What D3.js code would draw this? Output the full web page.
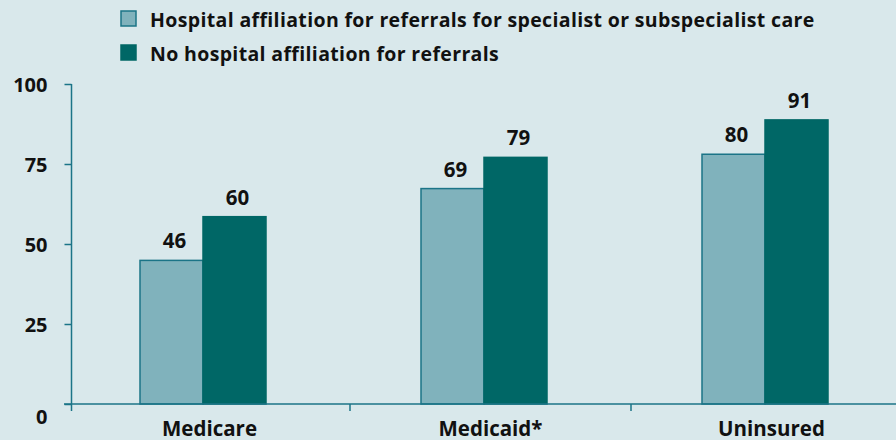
<!DOCTYPE html>
<html>
<head>
<meta charset="utf-8">
<script src="https://cdn.jsdelivr.net/npm/d3@7"></script>
<style>
  body { margin: 0; background: #d9e8eb; }
  svg text { font-family: "Open Sans", "Noto Sans", sans-serif; font-weight: bold; fill: #111; }
</style>
</head>
<body>
<div id="chart"></div>
<script>
var categories = ["Medicare", "Medicaid*", "Uninsured"];
var seriesNames = ["Hospital affiliation for referrals for specialist or subspecialist care",
                   "No hospital affiliation for referrals"];
var affiliated = [46, 69, 80];
var notAffiliated = [60, 79, 91];
var yTicks = [0, 25, 50, 75, 100];

var WIDTH = 896, HEIGHT = 440;
var AXIS_COLOR = "#1b7487";
var colors = ["#80b2bc", "#006766"];

var svg = d3.select("#chart").append("svg")
  .attr("width", WIDTH)
  .attr("height", HEIGHT);

svg.append("rect").attr("width", WIDTH).attr("height", HEIGHT).attr("fill", "#d9e8eb");

var y = d3.scaleLinear().domain([0, 100]).range([404, 84]);
// bars in the original sit a little short of the axis, so they get their own scale
var yBar = d3.scaleLinear().domain([0, 102.5]).range([404, 84]);

var x0 = d3.scaleBand().domain(categories).range([69, 912]);
var x1 = d3.scaleBand().domain([0, 1]).range([0, 126]);
var GROUP_OFFSET = 71;

// y axis
var yAxis = svg.append("g").attr("transform", "translate(71.5,0)")
  .call(d3.axisLeft(y).tickValues(yTicks).tickSize(7).tickPadding(17));
yAxis.select(".domain").remove();
yAxis.selectAll(".tick line").attr("stroke", AXIS_COLOR).attr("stroke-width", 1.5);
yAxis.selectAll(".tick text").style("font-size", "20px").attr("fill", "#111")
  .attr("dy", function (d) { return d === 0 ? "0.95em" : "0.35em"; })
  .attr("font-family", null);
svg.append("line")
  .attr("x1", 71.5).attr("x2", 71.5).attr("y1", y(100)).attr("y2", 411)
  .attr("stroke", AXIS_COLOR).attr("stroke-width", 1.5);

// bars
var rows = categories.map(function (c, i) { return { cat: c, values: [affiliated[i], notAffiliated[i]] }; });

var groups = svg.selectAll("g.group").data(rows).enter().append("g")
  .attr("class", "group")
  .attr("transform", function (d) { return "translate(" + (x0(d.cat) + GROUP_OFFSET) + ",0)"; });

groups.selectAll("rect").data(function (d) { return d.values; }).enter().append("rect")
  .attr("x", function (v, i) { return x1(i); })
  .attr("y", function (v) { return yBar(v); })
  .attr("width", x1.bandwidth())
  .attr("height", function (v) { return yBar(0) - yBar(v); })
  .attr("fill", function (v, i) { return colors[i]; })
  .attr("stroke", function (v, i) { return i === 0 ? AXIS_COLOR : colors[1]; })
  .attr("stroke-width", 1.5);

groups.selectAll("text").data(function (d) { return d.values; }).enter().append("text")
  .attr("x", function (v, i) { return x1(i) + x1.bandwidth() / 2 + 3; })
  .attr("y", function (v) { return yBar(v) - 12; })
  .attr("text-anchor", "middle")
  .style("font-size", "20.5px")
  .text(function (v) { return v; });

// x axis baseline and ticks
svg.append("line")
  .attr("x1", 64).attr("x2", WIDTH).attr("y1", 404).attr("y2", 404)
  .attr("stroke", AXIS_COLOR).attr("stroke-width", 1.5);
svg.selectAll("line.xtick").data(categories.slice(1)).enter().append("line")
  .attr("class", "xtick")
  .attr("x1", function (c) { return x0(c); }).attr("x2", function (c) { return x0(c); })
  .attr("y1", 404).attr("y2", 411)
  .attr("stroke", AXIS_COLOR).attr("stroke-width", 1.5);
svg.selectAll("text.xlabel").data(categories).enter().append("text")
  .attr("class", "xlabel")
  .attr("x", function (c) { return x0(c) + x0.bandwidth() / 2; })
  .attr("y", 436)
  .attr("text-anchor", "middle")
  .style("font-size", "20.5px")
  .text(function (c) { return c; });

// legend
var legend = svg.selectAll("g.legend").data(seriesNames).enter().append("g")
  .attr("class", "legend")
  .attr("transform", function (d, i) { return "translate(121," + (11 + i * 34) + ")"; });
legend.append("rect")
  .attr("width", 15).attr("height", 15)
  .attr("fill", function (d, i) { return colors[i]; })
  .attr("stroke", function (d, i) { return i === 0 ? AXIS_COLOR : colors[1]; })
  .attr("stroke-width", 1.5);
legend.append("text")
  .attr("x", 29).attr("y", 15.5)
  .style("font-size", "19.5px")
  .style("letter-spacing", "0.35px")
  .text(function (d) { return d; });
</script>
</body>
</html>
